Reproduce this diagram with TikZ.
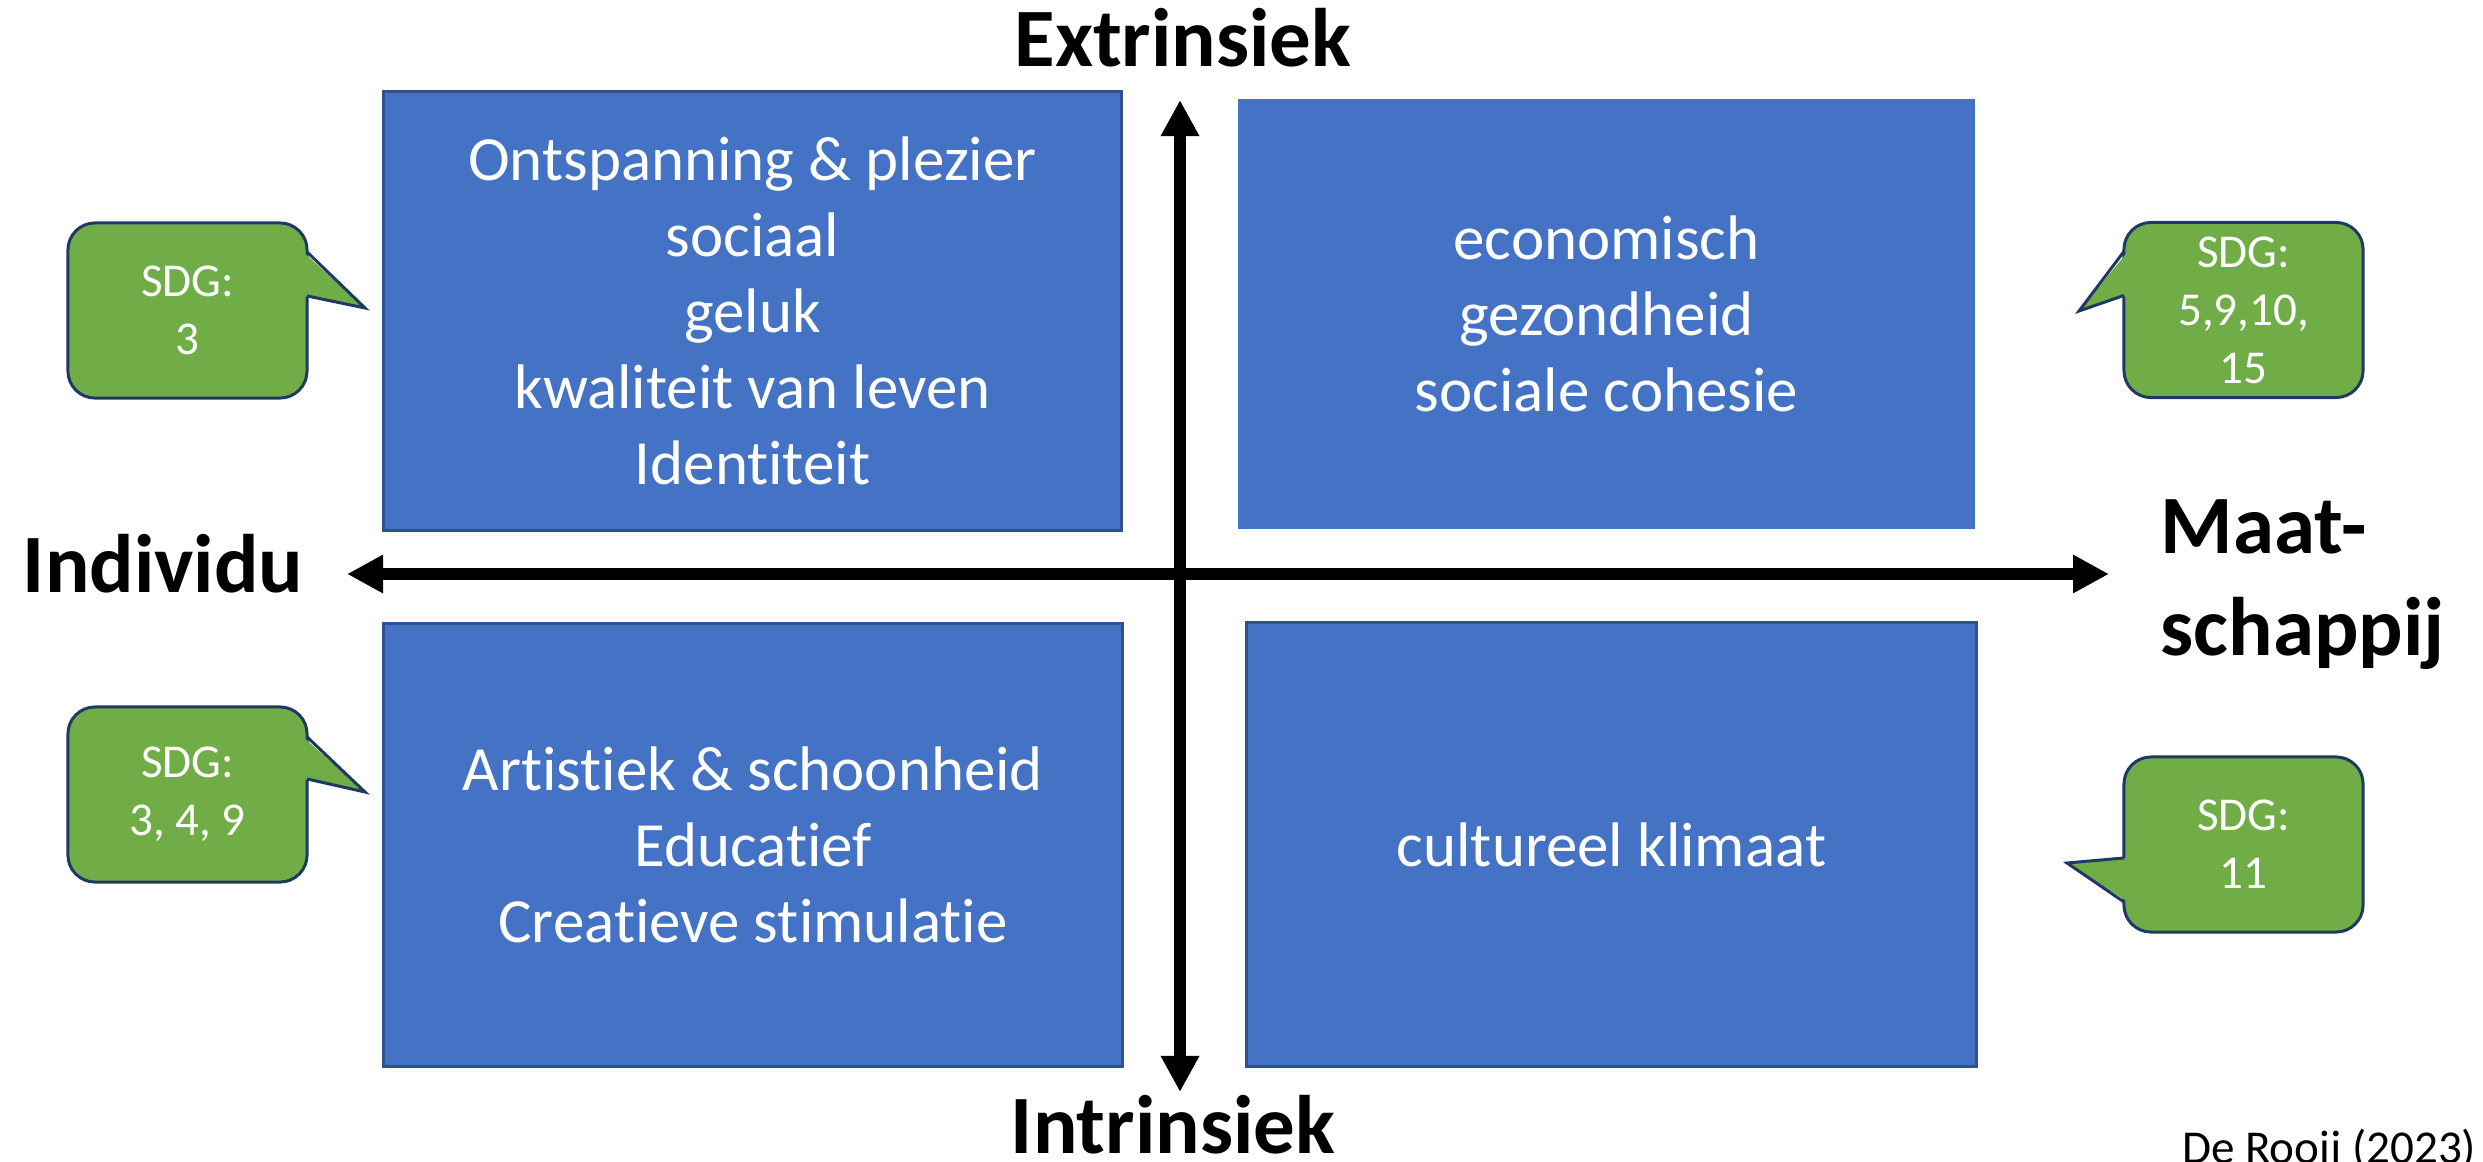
\documentclass[tikz,border=0pt]{standalone}
\usepackage{fontspec}
\setmainfont{Carlito}[Ligatures={NoCommon}]
\usetikzlibrary{arrows.meta}
\definecolor{quadblue}{HTML}{4472C4}
\definecolor{quadline}{HTML}{2F528F}
\definecolor{sdggreen}{HTML}{70AD47}
\definecolor{sdgline}{HTML}{203864}

\begin{document}
\begin{tikzpicture}[x=0.01cm,y=-0.01cm,
  quad/.style={rectangle, fill=quadblue, draw=quadline, line width=0.85pt, outer sep=0pt,
    text=white, align=center, font=\fontsize{17.9pt}{21.6pt}\selectfont},
  sdg/.style={rectangle, rounded corners=0.27cm, fill=sdggreen, draw=sdgline, line width=0.85pt,
    outer sep=0pt, minimum width=2.39cm, minimum height=1.75cm,
    text=white, align=center, font=\fontsize{13.4pt}{16.5pt}\selectfont},
  axis label/.style={inner sep=0pt, font=\fontsize{23.6pt}{29pt}\selectfont\bfseries},
  axis/.style={line width=0.12cm,
    {Triangle[length=0.36cm,width=0.36cm]}-{Triangle[length=0.36cm,width=0.36cm]}}]

\useasboundingbox (0,0) rectangle (2483,1161);

\node (q1) [quad, minimum width=7.37cm, minimum height=4.38cm] at (752.5,311)
  {Ontspanning \& plezier\\sociaal\\geluk\\kwaliteit van leven\\Identiteit};
\node (q2) [quad, draw=none, minimum width=7.37cm, minimum height=4.30cm] at (1606.5,314)
  {economisch\\gezondheid\\sociale cohesie};
\node (q3) [quad, minimum width=7.38cm, minimum height=4.42cm] at (753,845)
  {Artistiek \& schoonheid\\Educatief\\Creatieve stimulatie};
\node (q4) [quad, minimum width=7.29cm, minimum height=4.43cm] at (1611.5,844.5)
  {cultureel klimaat};

% axes
\coordinate (ext tip) at (1180,100);
\coordinate (int tip) at (1180,1092);
\coordinate (ind tip) at (347,574);
\coordinate (maat tip) at (2109,574);
\draw [axis] (ind tip) -- (maat tip);
\draw [axis] (int tip) -- (ext tip);

\node (ext) [axis label, anchor=base] at (1183,67) {Extrinsiek};
\node (int) [axis label, anchor=base] at (1173,1153) {Intrinsiek};
\node (ind) [axis label, anchor=base] at (163,592) {Individu};
\node (maat) [axis label, anchor=north west, align=left] at (2160,498.5) {Maat-\\schappij};

\node (sdg1) [sdg] at (187.5,310.5) {SDG:\\3};
\node (sdg2) [sdg] at (2243.5,310) {SDG:\\5,9,10,\\15};
\node (sdg3) [sdg] at (187.5,794.5) {SDG:\\3, 4, 9};
\node (sdg4) [sdg] at (2243.5,844.5) {SDG:\\11};

\foreach \n/\s/\d/\a/\b/\tx/\ty in
  {sdg1/north east/-4/29/73/365/308, sdg2/north west/4/29/73/2079/311,
   sdg3/north east/-4/30/72/365/792, sdg4/north west/4/101/145/2067/863}{
  \fill [sdggreen] ([shift={(\d,\a)}]\n.\s) -- (\tx,\ty) -- ([shift={(\d,\b)}]\n.\s) -- cycle;
  \draw [sdgline, line width=0.85pt] ([shift={(0,\a)}]\n.\s) -- (\tx,\ty) -- ([shift={(0,\b)}]\n.\s);
}

\node (credit) [anchor=base east, inner sep=0pt, font=\fontsize{13.4pt}{16.5pt}\selectfont]
  at (2477,1163) {De Rooij (2023)};

\end{tikzpicture}
\end{document}
